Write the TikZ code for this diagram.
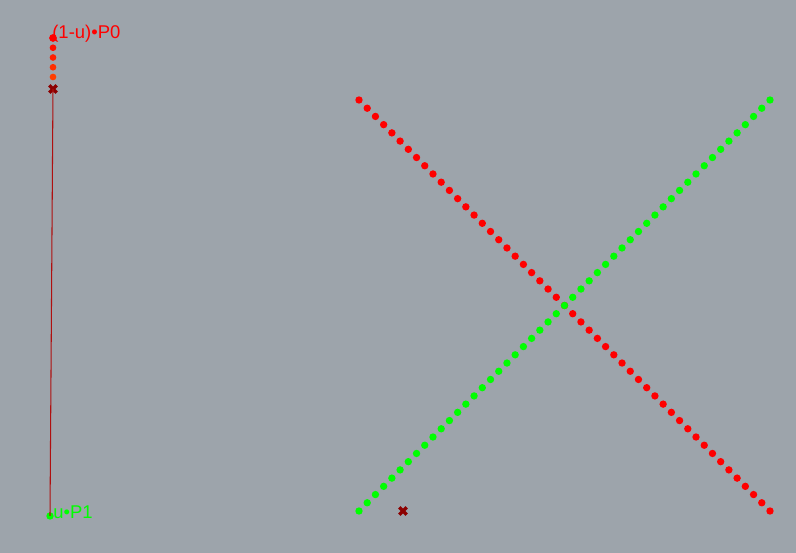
\documentclass[tikz,border=0pt]{standalone}
\usepackage{fontspec}
\setmainfont{Liberation Sans}
\usetikzlibrary{shapes.misc, positioning}

\begin{document}
\begin{tikzpicture}[
  x=0.02cm, y=-0.02cm,
  % ---- styles ----
  dot/.style 2 args={%
    circle, fill=#1, draw=none, minimum size=#2, inner sep=0pt, outer sep=0pt,
  },
  xmark/.style={%
    cross out, draw=Cx, line width=2pt, minimum size=4.2pt,
    inner sep=0pt, outer sep=0pt,
  },
  lbl/.style={font=\fontsize{10.5}{12}\selectfont, inner sep=0pt, anchor=west},
]

% ---- colour palette ----
\definecolor{Cbg}{RGB}{157,164,171}   % background
\definecolor{Cr}{RGB}{255,0,0}        % P0 side
\definecolor{Cg}{RGB}{0,255,0}        % P1 side
\definecolor{Co}{RGB}{255,62,0}       % last weight dot
\definecolor{Cx}{RGB}{140,0,0}        % markers
\definecolor{Cl}{RGB}{175,15,15}      % weight bar

\def\ds{8.22}   % spacing of the curve dots

% background / bounding box
\fill[Cbg] (0,0) rectangle (796,553);
\useasboundingbox (0,0) rectangle (796,553);

% =========================================================
% weight bar  (left)
% =========================================================
\foreach \k/\c/\s in {0/0/4.4pt,1/25/3.8pt,2/50/3.8pt,3/75/3.8pt,4/100/3.8pt} {
  \node[dot={Co!\c!Cr}{\s}] (w\k) at (53,{38+9.75*\k}) {};
}
\node[xmark] (wu) at (53,89) {};
\node[dot={Cg}{4.2pt}] (w1end) at (50,516) {};
\draw[Cl, line width=0.6pt] (wu.center) -- (w1end.center);

\node[lbl, text=Cr] (Lp0) at (52,34) {(1-u)•P0};
\node[lbl, text=Cg] (Lp1) at (53,512) {u•P1};

% =========================================================
% curves  (right)
% =========================================================
\foreach \i in {0,...,50} {
  \node[dot={Cr}{4.2pt}] (r\i) at ({359+\ds*\i},{100+\ds*\i}) {};
}
\foreach \i in {0,...,50} {
  \node[dot={Cg}{4.2pt}] (g\i) at ({359+\ds*\i},{511-\ds*\i}) {};
}

% current point
\node[xmark] (cu) at (403,511) {};

\end{tikzpicture}
\end{document}
